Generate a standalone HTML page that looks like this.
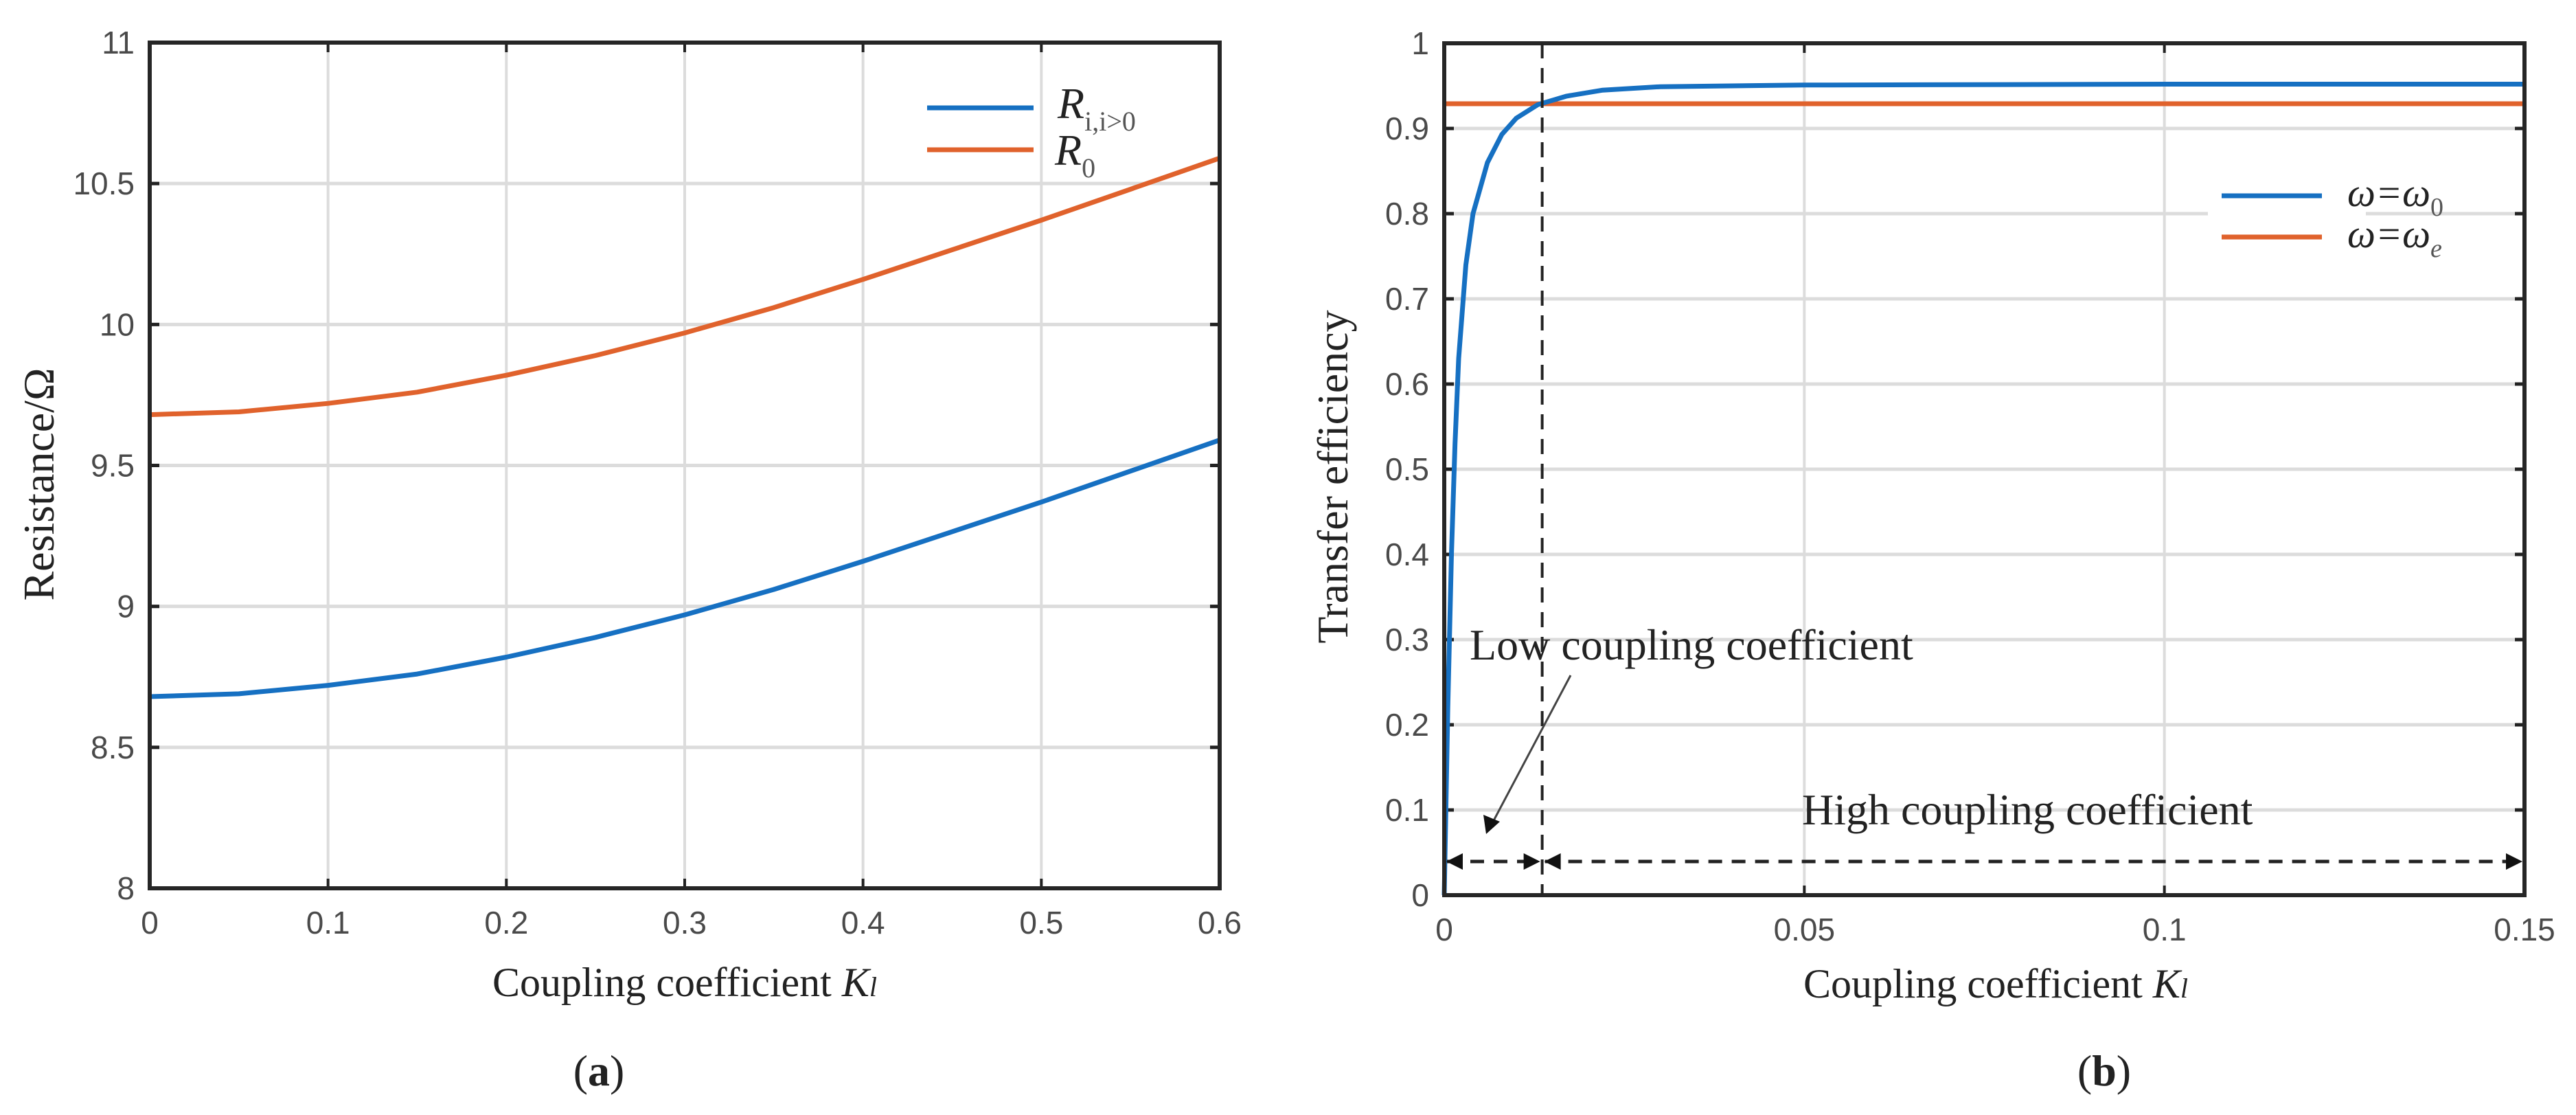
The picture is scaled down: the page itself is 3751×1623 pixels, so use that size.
<!DOCTYPE html>
<html><head><meta charset="utf-8"><style>
html,body{margin:0;padding:0;background:#fff;}
svg{display:block;}
text{font-family:"Liberation Sans",sans-serif;}
.tick{font-size:46px;fill:#4a4a4a;}
.serif{font-family:"Liberation Serif",serif;fill:#222;}
</style></head><body>
<svg id="fig" width="3751" height="1623" viewBox="0 0 3751 1623" xmlns="http://www.w3.org/2000/svg">
<g id="pa"></g>
<g id="pb"></g>
</svg>
<script>
// Panel (a) data
const aK = [0, 0.05, 0.1, 0.15, 0.2, 0.25, 0.3, 0.35, 0.4, 0.45, 0.5, 0.55, 0.6];
const aRi = [8.68, 8.69, 8.72, 8.76, 8.82, 8.89, 8.97, 9.06, 9.16, 9.265, 9.37, 9.48, 9.59];
const aR0 = [9.68, 9.69, 9.72, 9.76, 9.82, 9.89, 9.97, 10.06, 10.16, 10.265, 10.37, 10.48, 10.59];
const aXTicks = [0, 0.1, 0.2, 0.3, 0.4, 0.5, 0.6];
const aYTicks = [8, 8.5, 9, 9.5, 10, 10.5, 11];
// Panel (b) data
const bK = [0, 0.0005, 0.001, 0.0015, 0.002, 0.003, 0.004, 0.006, 0.008, 0.01, 0.013, 0.017, 0.022, 0.03, 0.05, 0.1, 0.15];
const bE0 = [0, 0.22, 0.4, 0.53, 0.63, 0.74, 0.8, 0.86, 0.893, 0.912, 0.928, 0.938, 0.945, 0.949, 0.951, 0.952, 0.952];
const bEe = [0.929, 0.929];
const bEeK = [0, 0.15];
const bXTicks = [0, 0.05, 0.1, 0.15];
const bXLabels = ["0", "0.05", "0.1", "0.15"];
const bYTicks = [0, 0.1, 0.2, 0.3, 0.4, 0.5, 0.6, 0.7, 0.8, 0.9, 1];
const bYLabels = ["0", "0.1", "0.2", "0.3", "0.4", "0.5", "0.6", "0.7", "0.8", "0.9", "1"];
const bSplit = 0.0136;

const NS = "http://www.w3.org/2000/svg";
function mk(parent, tag, attrs, txt) {
  const e = document.createElementNS(NS, tag);
  for (const k in attrs) e.setAttribute(k, attrs[k]);
  if (txt !== undefined) e.textContent = txt;
  parent.appendChild(e);
  return e;
}
const BLUE = "#1670c2", ORANGE = "#e0622c";

function panel(g, box, xd, yd, xt, xl, yt, yl) {
  const sx = v => box.l + (v - xd[0]) / (xd[1] - xd[0]) * (box.r - box.l);
  const sy = v => box.b - (v - yd[0]) / (yd[1] - yd[0]) * (box.b - box.t);
  xt.forEach((v, i) => {
    let e = mk(g, "line", {x1: sx(v), x2: sx(v), y1: box.t, y2: box.b, stroke: "#dcdcdc", "stroke-width": 4});
    
    
    e = mk(g, "line", {x1: sx(v), x2: sx(v), y1: box.b, y2: box.b - 14, stroke: "#222", "stroke-width": 4});
    
    
    e = mk(g, "line", {x1: sx(v), x2: sx(v), y1: box.t, y2: box.t + 14, stroke: "#222", "stroke-width": 4});
    
    
    e = mk(g, "text", {x: sx(v), y: box.b + 66, "text-anchor": "middle", class: "tick"}, xl[i]);
    
    
  });
  yt.forEach((v, i) => {
    let e = mk(g, "line", {x1: box.l, x2: box.r, y1: sy(v), y2: sy(v), stroke: "#dcdcdc", "stroke-width": 5});
    
    
    e = mk(g, "line", {x1: box.l, x2: box.l + 14, y1: sy(v), y2: sy(v), stroke: "#222", "stroke-width": 5});
    
    
    e = mk(g, "line", {x1: box.r, x2: box.r - 14, y1: sy(v), y2: sy(v), stroke: "#222", "stroke-width": 5});
    
    
    e = mk(g, "text", {x: box.l - 22, y: sy(v) + 16, "text-anchor": "end", class: "tick"}, yl[i]);
    
    
  });
  return {sx, sy};
}
function frame(g, box) {
  const e = mk(g, "rect", {x: box.l, y: box.t, width: box.r - box.l, height: box.b - box.t, fill: "none", stroke: "#262626", "stroke-width": 6});
  
  
}
function series(g, xs, ys, s, color, name) {
  const pts = xs.map((x, i) => s.sx(x).toFixed(1) + "," + s.sy(ys[i]).toFixed(1)).join(" ");
  const e = mk(g, "polyline", {points: pts, fill: "none", stroke: color, "stroke-width": 7, "stroke-linejoin": "round"});
  
  
}

// ---- Panel a
const ga = document.getElementById("pa");
const boxA = {l: 218, r: 1776, t: 62, b: 1293};
const sA = panel(ga, boxA, [0, 0.6], [8, 11], aXTicks, aXTicks.map(String), aYTicks, aYTicks.map(String));
series(ga, aK, aR0, sA, ORANGE, "series-r0");
series(ga, aK, aRi, sA, BLUE, "series-ri");
frame(ga, boxA);
let t;
t = mk(ga, "line", {x1: 1350, x2: 1505, y1: 157, y2: 157, stroke: BLUE, "stroke-width": 7});


t = mk(ga, "line", {x1: 1350, x2: 1505, y1: 218, y2: 218, stroke: ORANGE, "stroke-width": 7});


t = mk(ga, "text", {x: 1540, y: 172, class: "serif", "font-size": 64, "font-style": "italic"});
t.innerHTML = 'R<tspan font-size="40" dy="18" font-style="normal" fill="#555">i,i&gt;0</tspan>';


t = mk(ga, "text", {x: 1536, y: 240, class: "serif", "font-size": 64, "font-style": "italic"});
t.innerHTML = 'R<tspan font-size="40" dy="18" font-style="normal" fill="#555">0</tspan>';


t = mk(ga, "text", {x: 997, y: 1450, "text-anchor": "middle", class: "serif", "font-size": 60});
t.innerHTML = 'Coupling coefficient <tspan font-style="italic">K</tspan><tspan font-style="italic" font-size="40">l</tspan>';


t = mk(ga, "text", {x: 0, y: 0, transform: "translate(78,705) rotate(-90)", "text-anchor": "middle", class: "serif", "font-size": 64}, "Resistance/Ω");


t = mk(ga, "text", {x: 872, y: 1580, "text-anchor": "middle", class: "serif", "font-size": 64});
t.innerHTML = '(<tspan font-weight="bold">a</tspan>)';



// ---- Panel b
const gb = document.getElementById("pb");
const boxB = {l: 2103, r: 3676, t: 63, b: 1303};
const sB = panel(gb, boxB, [0, 0.15], [0, 1], bXTicks, bXLabels, bYTicks, bYLabels);
// legend background gap
t = mk(gb, "rect", {x: 3215, y: 260, width: 230, height: 110, fill: "#fff"});


series(gb, bEeK, bEe, sB, ORANGE, "series-omega-e");
series(gb, bK, bE0, sB, BLUE, "series-omega-0");
frame(gb, boxB);
const xs = sB.sx(bSplit);
t = mk(gb, "line", {x1: xs, x2: xs, y1: boxB.t, y2: boxB.b, stroke: "#222", "stroke-width": 4, "stroke-dasharray": "22 14"});


const ay = 1254;
t = mk(gb, "line", {x1: boxB.l + 4, x2: xs - 4, y1: ay, y2: ay, stroke: "#222", "stroke-width": 5, "stroke-dasharray": "20 14"});


t = mk(gb, "line", {x1: xs + 4, x2: boxB.r - 4, y1: ay, y2: ay, stroke: "#222", "stroke-width": 5, "stroke-dasharray": "20 14"});


const heads = [[boxB.l + 3, 1], [xs - 3, -1], [xs + 3, 1], [boxB.r - 3, -1]];
heads.forEach(h => {
  const e = mk(gb, "polygon", {points: `${h[0]},${ay} ${h[0] + h[1] * 24},${ay - 12} ${h[0] + h[1] * 24},${ay + 12}`, fill: "#111"});
  
  
});
t = mk(gb, "line", {x1: 2287, y1: 983, x2: 2172, y2: 1200, stroke: "#444", "stroke-width": 3});


t = mk(gb, "polygon", {points: "2164,1214 2160,1186 2184,1196", fill: "#111"});


t = mk(gb, "text", {x: 2140, y: 960, class: "serif", "font-size": 64}, "Low coupling coefficient");


t = mk(gb, "text", {x: 2624, y: 1200, class: "serif", "font-size": 64}, "High coupling coefficient");


t = mk(gb, "line", {x1: 3235, x2: 3381, y1: 285, y2: 285, stroke: BLUE, "stroke-width": 7});


t = mk(gb, "line", {x1: 3235, x2: 3381, y1: 345, y2: 345, stroke: ORANGE, "stroke-width": 7});


t = mk(gb, "text", {x: 3418, y: 300, class: "serif", "font-size": 58, "font-style": "italic"});
t.innerHTML = 'ω=ω<tspan font-size="38" dy="14" font-style="normal" fill="#555">0</tspan>';


t = mk(gb, "text", {x: 3418, y: 360, class: "serif", "font-size": 58, "font-style": "italic"});
t.innerHTML = 'ω=ω<tspan font-size="38" dy="14" fill="#555">e</tspan>';


t = mk(gb, "text", {x: 2906, y: 1452, "text-anchor": "middle", class: "serif", "font-size": 60});
t.innerHTML = 'Coupling coefficient <tspan font-style="italic">K</tspan><tspan font-style="italic" font-size="40">l</tspan>';


t = mk(gb, "text", {x: 0, y: 0, transform: "translate(1962,694) rotate(-90)", "text-anchor": "middle", class: "serif", "font-size": 64}, "Transfer efficiency");


t = mk(gb, "text", {x: 3064, y: 1580, "text-anchor": "middle", class: "serif", "font-size": 64});
t.innerHTML = '(<tspan font-weight="bold">b</tspan>)';


</script>
</body></html>
